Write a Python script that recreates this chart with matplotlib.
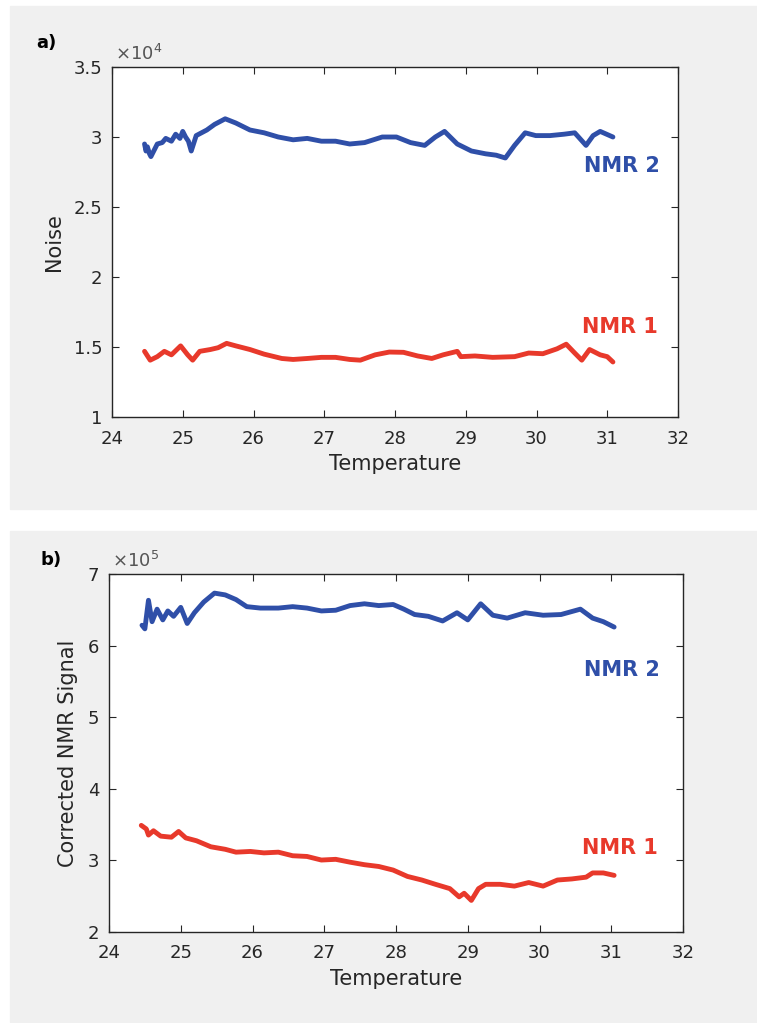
import matplotlib
matplotlib.use("Agg")
import matplotlib.pyplot as plt
from matplotlib.patches import Rectangle
from matplotlib.ticker import FormatStrFormatter

plt.rcParams["font.family"] = ["DejaVu Sans"]
plt.rcParams["mathtext.fontset"] = "dejavusans"

# ----------------------------------
# Data
# ----------------------------------
# a) Noise, values in units of 1e4
noise_t2 = [24.46, 24.48, 24.50, 24.53, 24.55, 24.59, 24.64, 24.71, 24.76, 24.84,
            24.90, 24.96, 25.00, 25.04, 25.08, 25.12, 25.19, 25.34, 25.45, 25.60,
            25.75, 25.95, 26.15, 26.35, 26.56, 26.76, 26.96, 27.16, 27.36, 27.57,
            27.82, 28.02, 28.22, 28.42, 28.57, 28.70, 28.88, 29.08, 29.28, 29.43,
            29.56, 29.69, 29.84, 29.99, 30.19, 30.39, 30.54, 30.70, 30.80, 30.90,
            31.08]
noise_nmr2 = [2.95, 2.90, 2.93, 2.88, 2.86, 2.90, 2.95, 2.96, 2.99, 2.97,
              3.02, 2.99, 3.04, 3.00, 2.97, 2.90, 3.01, 3.05, 3.09, 3.13,
              3.10, 3.05, 3.03, 3.00, 2.98, 2.99, 2.97, 2.97, 2.95, 2.96,
              3.00, 3.00, 2.96, 2.94, 3.00, 3.04, 2.95, 2.90, 2.88, 2.87,
              2.85, 2.94, 3.03, 3.01, 3.01, 3.02, 3.03, 2.94, 3.01, 3.04,
              3.00]

noise_t1 = [24.46, 24.54, 24.64, 24.74, 24.84, 24.97, 25.07, 25.14, 25.24, 25.39,
            25.50, 25.62, 25.75, 25.95, 26.15, 26.40, 26.56, 26.76, 26.96, 27.16,
            27.36, 27.51, 27.72, 27.92, 28.12, 28.32, 28.52, 28.68, 28.88, 28.93,
            29.13, 29.38, 29.69, 29.89, 30.09, 30.29, 30.42, 30.54, 30.64, 30.75,
            30.90, 31.00, 31.08]
noise_nmr1 = [1.469, 1.406, 1.431, 1.469, 1.444, 1.508, 1.444, 1.406, 1.469, 1.482,
              1.495, 1.526, 1.508, 1.482, 1.449, 1.418, 1.411, 1.418, 1.426, 1.426,
              1.411, 1.406, 1.444, 1.464, 1.462, 1.436, 1.418, 1.444, 1.469, 1.431,
              1.436, 1.426, 1.431, 1.457, 1.452, 1.487, 1.520, 1.457, 1.406, 1.482,
              1.444, 1.431, 1.393]

# b) Corrected NMR signal, values in units of 1e5
sig_t2 = [24.46, 24.50, 24.55, 24.60, 24.67, 24.75, 24.82, 24.90, 25.00, 25.09,
          25.19, 25.32, 25.47, 25.62, 25.77, 25.92, 26.11, 26.36, 26.56, 26.76,
          26.96, 27.16, 27.36, 27.56, 27.76, 27.96, 28.11, 28.26, 28.45, 28.65,
          28.85, 29.00, 29.18, 29.35, 29.55, 29.80, 30.05, 30.30, 30.57, 30.74,
          30.89, 31.04]
sig_nmr2 = [6.284, 6.234, 6.633, 6.334, 6.509, 6.359, 6.484, 6.409, 6.534, 6.309,
            6.459, 6.608, 6.733, 6.708, 6.643, 6.544, 6.524, 6.524, 6.544, 6.524,
            6.484, 6.494, 6.559, 6.584, 6.559, 6.574, 6.509, 6.434, 6.409, 6.344,
            6.459, 6.359, 6.584, 6.424, 6.384, 6.459, 6.424, 6.434, 6.509, 6.384,
            6.334, 6.259]

sig_t1 = [24.45, 24.52, 24.55, 24.62, 24.72, 24.87, 24.97, 25.07, 25.22, 25.42,
          25.62, 25.77, 25.97, 26.16, 26.36, 26.56, 26.76, 26.96, 27.16, 27.36,
          27.56, 27.76, 27.96, 28.16, 28.36, 28.55, 28.75, 28.88, 28.95, 29.05,
          29.15, 29.25, 29.45, 29.65, 29.85, 30.05, 30.25, 30.45, 30.65, 30.74,
          30.89, 31.04]
sig_nmr1 = [3.489, 3.439, 3.354, 3.414, 3.339, 3.324, 3.404, 3.314, 3.274, 3.190,
            3.155, 3.115, 3.125, 3.105, 3.115, 3.065, 3.055, 3.005, 3.015, 2.975,
            2.940, 2.915, 2.865, 2.776, 2.726, 2.666, 2.606, 2.491, 2.541, 2.441,
            2.606, 2.666, 2.666, 2.641, 2.691, 2.641, 2.726, 2.741, 2.766, 2.825,
            2.825, 2.791]

x_ticks = [24, 25, 26, 27, 28, 29, 30, 31, 32]
noise_ticks = [1, 1.5, 2, 2.5, 3, 3.5]
sig_ticks = [2, 3, 4, 5, 6, 7]

BLUE = "#2f4fa8"
RED = "#e8392b"
PANEL = "#f0f0f0"
INK = "#262626"

W, H = 757, 1023
fig = plt.figure(figsize=(W / 100, H / 100), dpi=100)
fig.patch.set_facecolor("white")

# grey panel backgrounds
fig.add_artist(Rectangle((10 / W, 1 - 509 / H), 747 / W, 503 / H,
                         transform=fig.transFigure, color=PANEL, zorder=0))
fig.add_artist(Rectangle((10 / W, 1 - 1022 / H), 747 / W, 491 / H,
                         transform=fig.transFigure, color=PANEL, zorder=0))

ax_a = fig.add_axes([112 / W, 1 - 417 / H, 566 / W, 350 / H])
ax_b = fig.add_axes([109 / W, 1 - 932 / H, 574 / W, 358 / H])


def style_axes(ax, yticks, ylabel, power):
    ax.set_facecolor("white")
    ax.set_xlim(24, 32)
    ax.set_ylim(yticks[0], yticks[-1])
    ax.set_xticks(x_ticks)
    ax.set_yticks(yticks)
    ax.yaxis.set_major_formatter(FormatStrFormatter("%g"))
    ax.tick_params(direction="in", top=True, right=True, length=5,
                   width=0.8, colors=INK, labelsize=13)
    ax.tick_params(axis="x", pad=9)
    ax.tick_params(axis="y", pad=7)
    for s in ax.spines.values():
        s.set_color(INK)
        s.set_linewidth(1.0)
    ax.set_xlabel("Temperature", fontsize=15, color=INK, labelpad=5)
    ax.set_ylabel(ylabel, fontsize=15, color=INK, labelpad=7)
    ax.text(0.005, 1.008, r"$\times10^{%d}$" % power, transform=ax.transAxes,
            ha="left", va="bottom", fontsize=13, color="#555555")


# ----------------------------------
# a) Noise
# ----------------------------------
ax_a.plot(noise_t2, noise_nmr2, color=BLUE, lw=3.5, solid_capstyle="round")
ax_a.plot(noise_t1, noise_nmr1, color=RED, lw=3.5, solid_capstyle="round")
style_axes(ax_a, noise_ticks, "Noise", 4)
ax_a.text(30.67, 2.79, "NMR 2", color=BLUE, fontsize=15, fontweight="bold",
          ha="left", va="center")
ax_a.text(30.64, 1.64, "NMR 1", color=RED, fontsize=15, fontweight="bold",
          ha="left", va="center")
fig.text(36 / W, 1 - 43 / H, "a)", fontsize=13, fontweight="bold",
         ha="left", va="center", color="black")

# ----------------------------------
# b) Corrected NMR signal
# ----------------------------------
ax_b.plot(sig_t2, sig_nmr2, color=BLUE, lw=3.5, solid_capstyle="round")
ax_b.plot(sig_t1, sig_nmr1, color=RED, lw=3.5, solid_capstyle="round")
style_axes(ax_b, sig_ticks, "Corrected NMR Signal", 5)
ax_b.text(30.62, 5.66, "NMR 2", color=BLUE, fontsize=15, fontweight="bold",
          ha="left", va="center")
ax_b.text(30.59, 3.17, "NMR 1", color=RED, fontsize=15, fontweight="bold",
          ha="left", va="center")
fig.text(41 / W, 1 - 560 / H, "b)", fontsize=13, fontweight="bold",
         ha="left", va="center", color="black")

fig.savefig("out.png", dpi=100)
